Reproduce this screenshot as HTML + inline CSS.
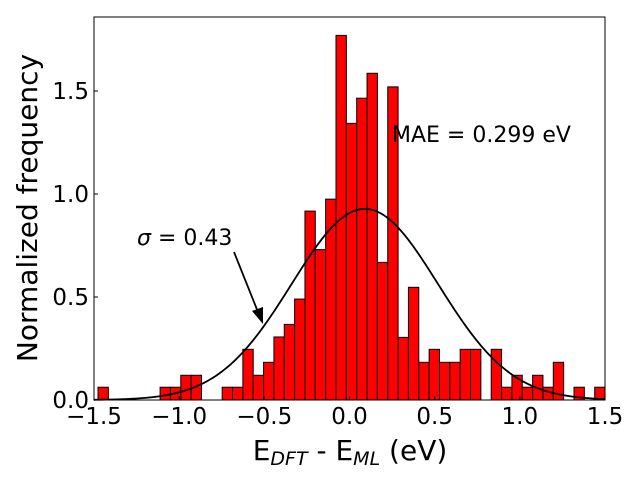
<!DOCTYPE html>
<html><head><meta charset="utf-8"><style>
html,body{margin:0;padding:0;background:#fff;}
svg{display:block;font-family:"DejaVu Sans","Liberation Sans",sans-serif;}
</style></head><body>
<svg id="c" width="640" height="480" style="position:absolute;left:0;top:0"></svg>
<script>
const binStart = -1.4765;
const binWidth = 0.06075;
const binValues = [0.062,0,0,0,0,0,0.062,0.062,0.12,0.12,0,0,0.062,0.062,0.246,0.12,0.183,0.306,0.367,0.49,0.917,0.73,0.975,1.77,1.343,1.465,1.586,0.668,1.52,0.304,0.547,0.183,0.246,0.183,0.183,0.246,0.246,0,0.246,0.062,0.12,0.062,0.12,0.062,0.183,0,0.062,0,0.062];
const xTicks = [-1.5,-1.0,-0.5,0.0,0.5,1.0,1.5];
const xTickLabels = ["\u22121.5","\u22121.0","\u22120.5","0.0","0.5","1.0","1.5"];
const yTicks = [0,0.5,1.0,1.5];
const yTickLabels = ["0.0","0.5","1.0","1.5"];
const fitMean = 0.09;
const fitSigma = 0.43;

const NS="http://www.w3.org/2000/svg";
const svg=document.getElementById('c');
const L=94,R=605,T=17,B=400;
const X=v=>L+(v+1.5)/3*(R-L);
const Y=v=>B-v*206;
function mk(tag,attrs,parent){const e=document.createElementNS(NS,tag);for(const k in attrs)e.setAttribute(k,attrs[k]);(parent||svg).appendChild(e);return e;}

const bars=mk('g',{});


binValues.forEach((v,i)=>{
  if(v<=0)return;
  const x0=X(binStart+i*binWidth),x1=X(binStart+(i+1)*binWidth);
  const r=mk('rect',{x:x0,y:Y(v),width:x1-x0,height:Y(0)-Y(v),fill:'#ff0000',stroke:'#000','stroke-width':1},bars);
  
  
});

let d='';
for(let k=0;k<=300;k++){const x=-1.5+3*k/300;const y=Math.exp(-0.5*((x-fitMean)/fitSigma)**2)/(fitSigma*Math.sqrt(2*Math.PI));d+=(k?'L':'M')+X(x).toFixed(2)+','+Y(y).toFixed(2);}
const curve=mk('path',{d:d,fill:'none',stroke:'#000','stroke-width':1.8});



const frame=mk('rect',{x:L,y:T,width:R-L,height:B-T,fill:'none',stroke:'#000','stroke-width':1});



xTicks.forEach((t,i)=>{
  const x=X(t);
  const tk=mk('line',{x1:x,x2:x,y1:B,y2:B-4,stroke:'#000','stroke-width':1});
  
  
  const tx=mk('text',{x:x,y:424,'font-size':23,'text-anchor':'middle'});
  tx.textContent=xTickLabels[i];
  
  
});
yTicks.forEach((t,i)=>{
  const y=Y(t);
  const tk=mk('line',{x1:L,x2:L+4,y1:y,y2:y,stroke:'#000','stroke-width':1});
  
  
  const tx=mk('text',{x:L-5,y:y+8,'font-size':23,'text-anchor':'end'});
  tx.textContent=yTickLabels[i];
  
  
});

const arr=mk('line',{x1:234,y1:252,x2:258,y2:312,stroke:'#000','stroke-width':1.8});


const head=mk('polygon',{points:'263,324 252,311 263,307',fill:'#000'});


</script>
<svg width="640" height="480" style="position:absolute;left:0;top:0">
<text x="137" y="245" font-size="22"><tspan font-style="italic">σ</tspan> = 0.43</text>
<text x="392" y="142" font-size="22">MAE = 0.299 eV</text>
<text x="350" y="460" font-size="28" text-anchor="middle">E<tspan font-size="19" font-style="italic" dy="5">DFT</tspan><tspan dy="-5"> - E</tspan><tspan font-size="19" font-style="italic" dy="5">ML</tspan><tspan dy="-5"> (eV)</tspan></text>
<text transform="translate(37,208) rotate(-90)" font-size="28" text-anchor="middle">Normalized frequency</text>
</svg>
</body></html>
